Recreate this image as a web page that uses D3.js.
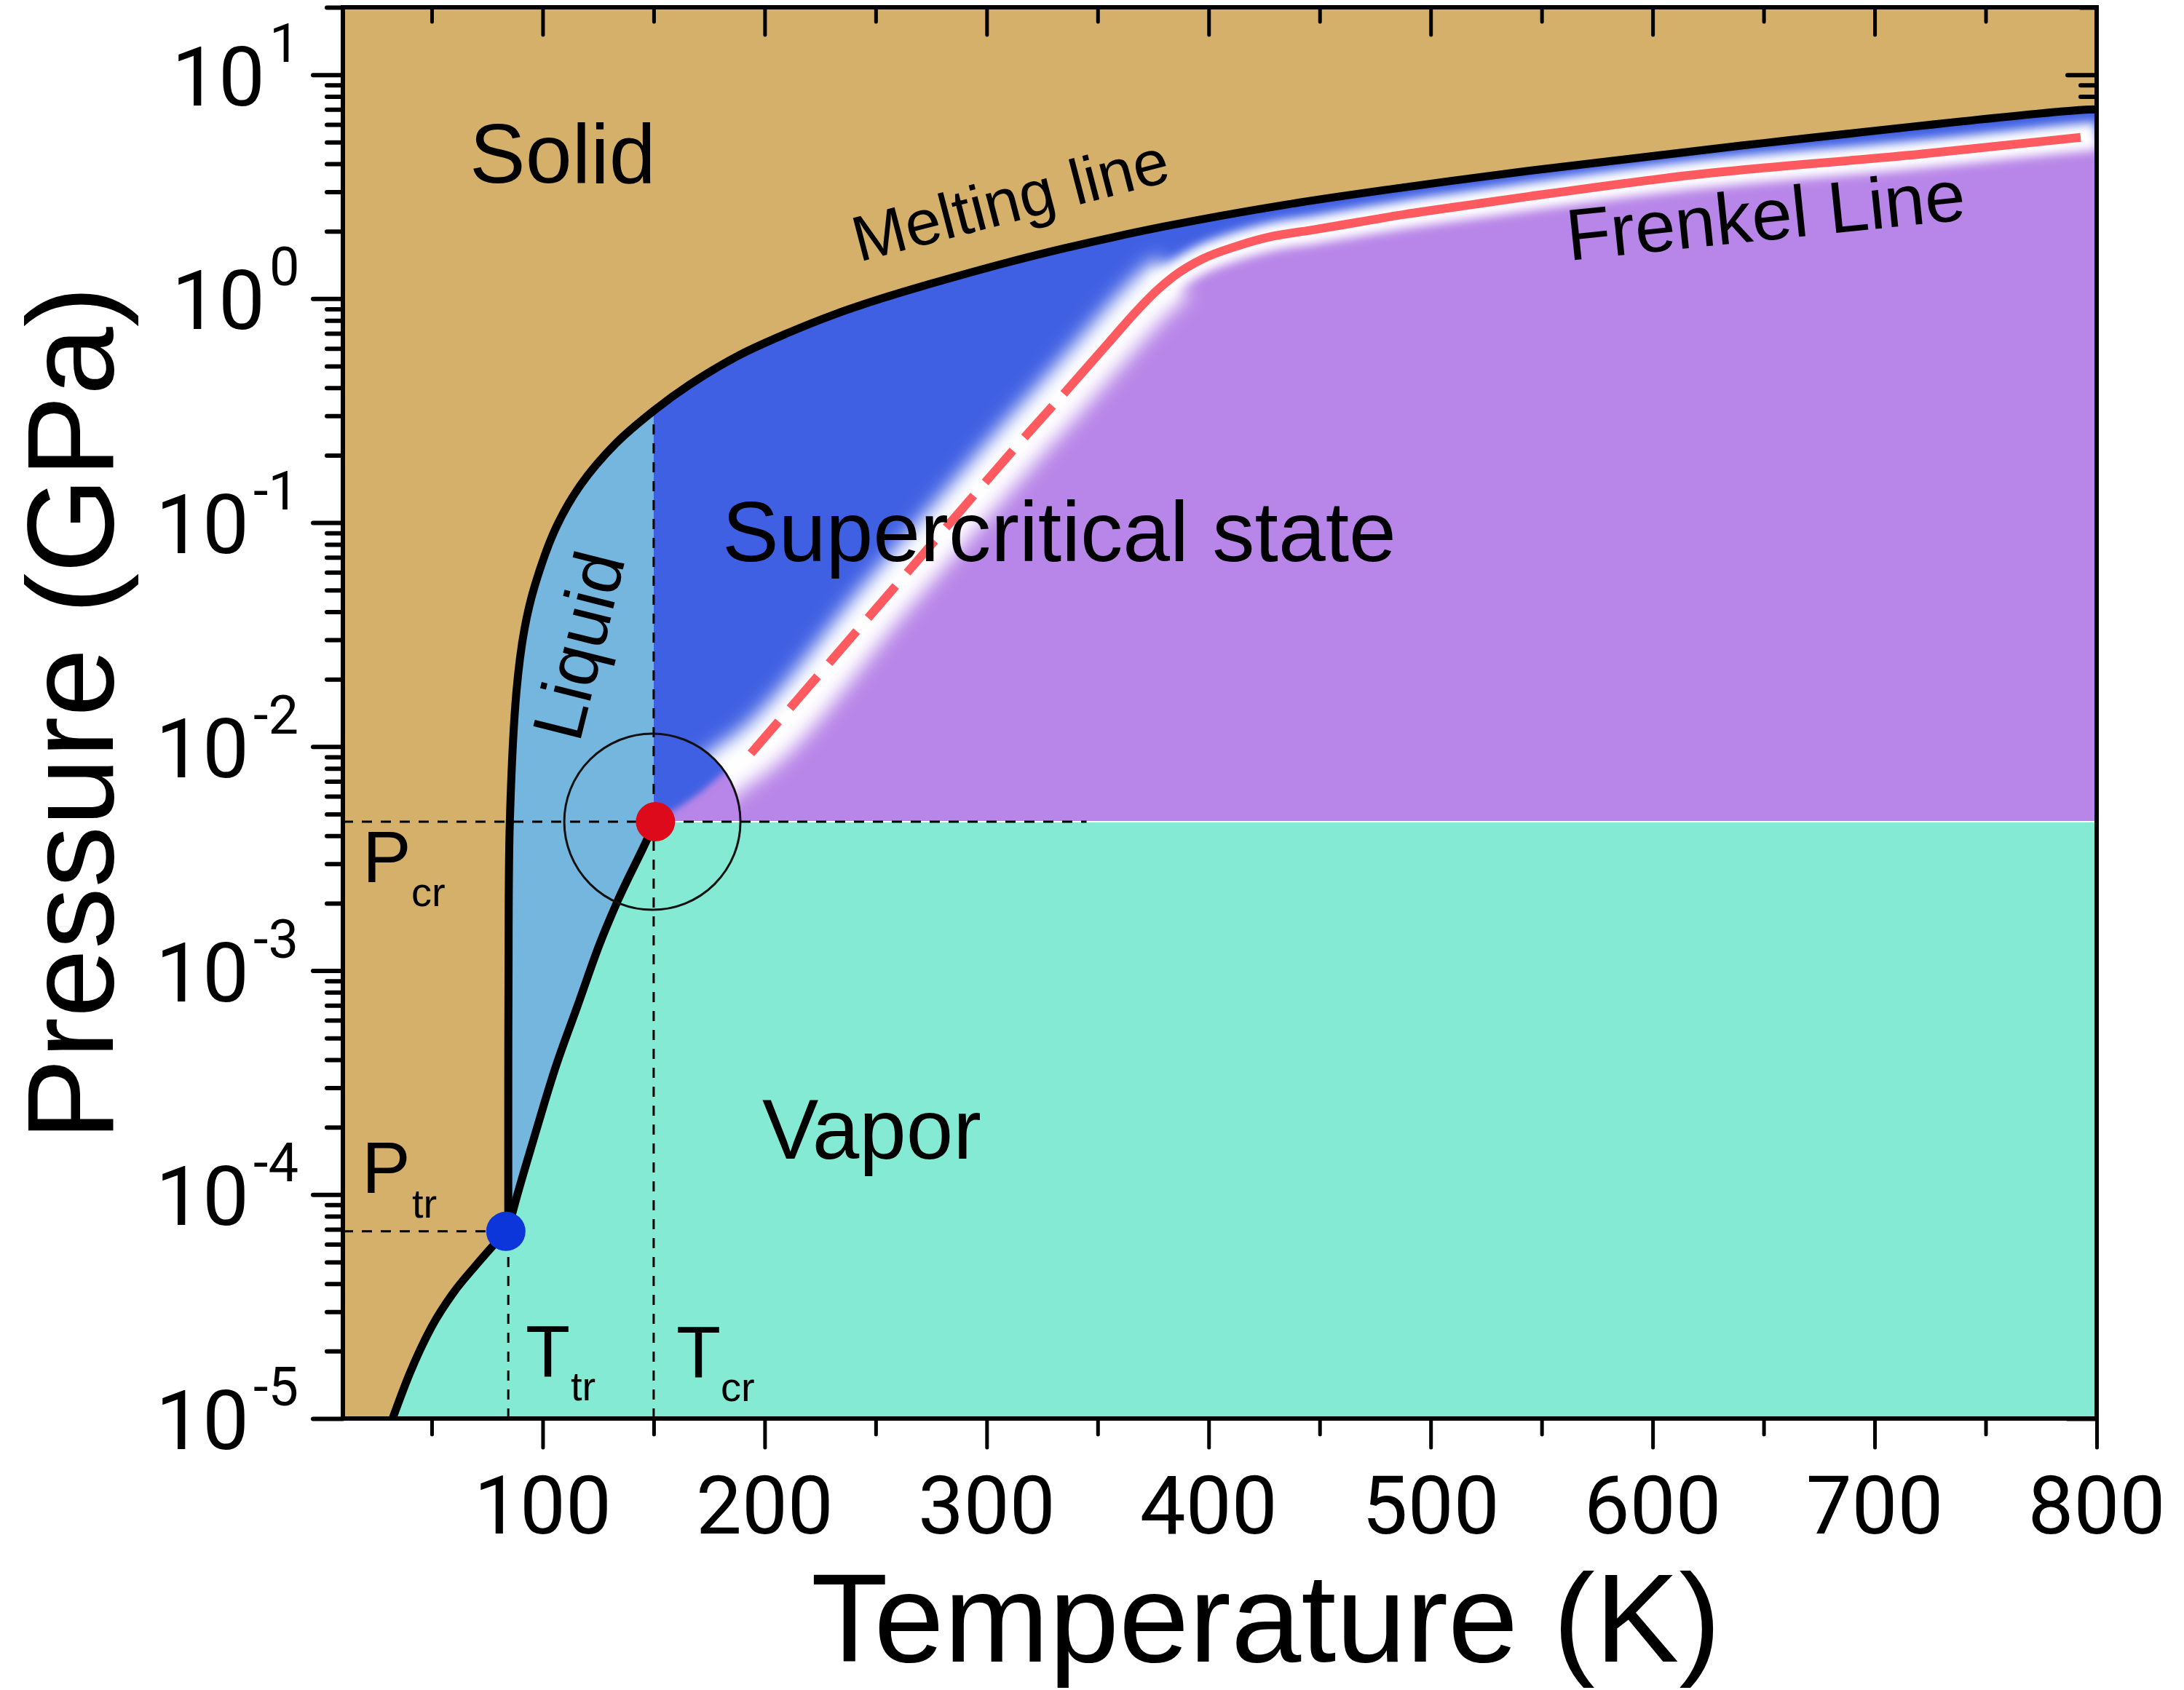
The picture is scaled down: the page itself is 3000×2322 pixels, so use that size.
<!DOCTYPE html>
<html>
<head>
<meta charset="utf-8">
<script src="https://cdn.jsdelivr.net/npm/d3@7"></script>
<style>
  html, body { margin: 0; padding: 0; background: #fff; }
  text { font-family: "Liberation Sans", Arial, sans-serif; fill: #000; }
  text.num { font-family: Roboto, "Liberation Sans", sans-serif; }
</style>
</head>
<body>
<svg id="chart" width="3000" height="2322"></svg>
<script>
// phase boundaries: T in K, P in GPa
const meltT = [84.5, 84.5, 84.6, 85.2, 88.2, 91.8, 96.5, 106, 117, 133, 150, 166, 188, 210, 232, 254, 276, 308, 335, 380, 435, 490, 544, 650, 792, 800];
const meltP = [7.08e-5, 3.16e-4, 8.7e-4, 4.6e-3, 0.0177, 0.0335, 0.0525, 0.095, 0.147, 0.226, 0.316, 0.412, 0.556, 0.70, 0.855, 1.012, 1.175, 1.439, 1.679, 2.1, 2.63, 3.16, 3.72, 4.95, 6.95, 7.0];
const sublT = [32.4, 40, 50, 60, 70, 78, 84.5];
const sublP = [1e-5, 1.58e-5, 2.57e-5, 3.67e-5, 4.84e-5, 5.96e-5, 6.9e-5];
const vapT = [87.9, 96.1, 105.6, 115.8, 125.6, 133.8, 146.5, 150.7];
const vapP = [9.44e-5, 1.79e-4, 3.65e-4, 7e-4, 1.31e-3, 2.05e-3, 3.75e-3, 4.62e-3];
const frenkelT = [193.8, 255, 300, 316, 334.7, 355, 368, 377, 384, 397, 413, 429.5, 445.9, 467.9, 489.5, 511.5, 544.3, 616, 720.7, 792.8, 800];
const frenkelP = [0.00933, 0.0469, 0.154, 0.234, 0.376, 0.637, 0.891, 1.096, 1.253, 1.5, 1.72, 1.905, 2.02, 2.2, 2.39, 2.57, 2.86, 3.55, 4.42, 5.25, 5.33];
// where blue fades straight into purple, below the start of the Frenkel line
const crossoverT = [150.7, 172.8, 182.6];
const crossoverP = [4.62e-3, 0.00646, 0.0078];

const Ttr = 83.4, Ptr = 6.85e-5, TtrLine = 84.5;
const Tcr = 150.8, Pcr = 4.62e-3, TcrLine = 150, PmeltAtTcr = 0.316;
const circleT = 149.4, circleR = 121;
const PdashEndT = 345;

const majorT = [100, 200, 300, 400, 500, 600, 700, 800];
const minorT = [50, 150, 250, 350, 450, 550, 650, 750];
const majorExp = [1, 0, -1, -2, -3, -4, -5];
const minorP = [20];
majorExp.slice(1).forEach(e => [2, 3, 4, 5, 6, 7, 8, 9].forEach(m => minorP.push(m * Math.pow(10, e))));

const colors = { solid: '#D4B06A', liquid: '#75B6DE', blue: '#3F60E3', purple: '#B886E8', vapor: '#85EAD4', red: '#FF5A60', critical: '#DC0A1A', triple: '#0C35DA' };

const xScale = d3.scaleLinear().domain([10, 800]).range([471, 2880]);
const yScale = d3.scaleLog().domain([1e-5, 20]).range([1949, 10]);

const svg = d3.select('#chart');
const defs = svg.append('defs');

const zip = (ts, ps) => ts.map((t, i) => ({ t: t, p: ps[i] }));
const melt = zip(meltT, meltP);
const subl = zip(sublT, sublP);
const vap = zip(vapT, vapP);
const frenkel = zip(frenkelT, frenkelP);
const crossover = zip(crossoverT, crossoverP);

const lineMelt = d3.line().x(d => xScale(d.t)).y(d => yScale(d.p)).curve(d3.curveCatmullRom.alpha(0.5));
const line = d3.line().x(d => xScale(d.t)).y(d => yScale(d.p)).curve(d3.curveMonotoneX);
const X = t => xScale(t), Y = p => yScale(p);
const Pmin = 1e-5, Pmax = 20, Tmax = 800;

function blur(id, sd) {
  defs.append('filter').attr('id', id).attr('filterUnits', 'userSpaceOnUse')
    .attr('x', 0).attr('y', 0).attr('width', 3000).attr('height', 2322)
    .append('feGaussianBlur').attr('stdDeviation', sd);
}
blur('blurEdge', 5);
blur('blurWide', 13);
blur('blurNarrow', 7);

// everything on the fluid side of the melting line
defs.append('clipPath').attr('id', 'fluidClip').append('path')
  .attr('d', lineMelt(melt) + `L${X(Tmax)},${Y(Pmin)}L${X(melt[0].t)},${Y(Pmin)}Z`);
defs.append('clipPath').attr('id', 'superClip').append('rect')
  .attr('x', X(TcrLine)).attr('y', Y(Pmax)).attr('width', X(Tmax) - X(TcrLine)).attr('height', Y(Pcr) - Y(Pmax));
// the white glow stops at the circle round the critical point
const cx = X(circleT), cy = Y(Pcr);
defs.append('clipPath').attr('id', 'outsideCircle').append('path')
  .attr('clip-rule', 'evenodd')
  .attr('d', `M0,0H3000V2322H0Z M${cx - circleR},${cy}A${circleR},${circleR} 0 1,0 ${cx + circleR},${cy}A${circleR},${circleR} 0 1,0 ${cx - circleR},${cy}Z`);

// solid background
svg.append('rect').attr('x', X(10)).attr('y', Y(Pmax)).attr('width', X(Tmax) - X(10)).attr('height', Y(Pmin) - Y(Pmax))
  .attr('fill', colors.solid);

function tickStyle(g, w) {
  g.selectAll('.domain').remove();
  g.selectAll('line').attr('stroke', '#000').attr('stroke-width', w).attr('stroke-linecap', 'round');
}

// mirrored ticks, the fluid regions cover most of the right hand ones
svg.append('g').attr('transform', `translate(0,${Y(Pmax)})`)
  .call(d3.axisTop(xScale).tickValues(majorT).tickSize(-38).tickFormat('')).call(tickStyle, 5);
svg.append('g').attr('transform', `translate(0,${Y(Pmax)})`)
  .call(d3.axisTop(xScale).tickValues(minorT).tickSize(-20).tickFormat('')).call(tickStyle, 5);
svg.append('g').attr('transform', `translate(${X(Tmax)},0)`)
  .call(d3.axisRight(yScale).tickValues(majorExp.map(e => Math.pow(10, e))).tickSize(-40).tickFormat('')).call(tickStyle, 6);
svg.append('g').attr('transform', `translate(${X(Tmax)},0)`)
  .call(d3.axisRight(yScale).tickValues(minorP).tickSize(-22).tickFormat('')).call(tickStyle, 6);

// supercritical part: purple, blue above the Frenkel line, white glow between
const fluid = svg.append('g').attr('clip-path', 'url(#fluidClip)');
fluid.append('rect').attr('x', X(melt[0].t)).attr('y', Y(Pmax)).attr('width', X(TcrLine) - X(melt[0].t)).attr('height', Y(Pmin) - Y(Pmax))
  .attr('fill', colors.liquid);
const sup = fluid.append('g').attr('clip-path', 'url(#superClip)');
sup.append('rect').attr('x', X(TcrLine)).attr('y', Y(Pmax)).attr('width', X(Tmax) - X(TcrLine)).attr('height', Y(Pcr) - Y(Pmax))
  .attr('fill', colors.purple);
const boundary = crossover.concat(frenkel);
sup.append('path')
  .attr('d', line(boundary) + `L${X(Tmax) + 60},${Y(frenkel[frenkel.length - 1].p)}L${X(Tmax) + 60},${Y(Pmax) - 60}L${X(100)},${Y(Pmax) - 60}L${X(100)},${Y(Pcr)}Z`)
  .attr('fill', colors.blue).attr('filter', 'url(#blurEdge)');
const glow = sup.append('g').attr('clip-path', 'url(#outsideCircle)');
glow.append('path').datum(boundary.filter(d => d.t >= 172 && d.t <= 384))
  .attr('d', line).attr('fill', 'none').attr('stroke', '#fff').attr('stroke-width', 68).attr('filter', 'url(#blurWide)');
glow.append('path').datum(frenkel.filter(d => d.t >= 377))
  .attr('d', line).attr('fill', 'none').attr('stroke', '#fff').attr('stroke-width', 38).attr('filter', 'url(#blurNarrow)');

// vapor on top of the liquid rectangle
svg.append('path')
  .attr('d', line(subl.concat(vap)) + `L${X(Tmax)},${Y(Pcr)}L${X(Tmax)},${Y(Pmin)}Z`)
  .attr('fill', colors.vapor);
svg.append('line').attr('x1', X(Tcr)).attr('x2', X(Tmax)).attr('y1', Y(Pcr)).attr('y2', Y(Pcr))
  .attr('stroke', '#fff').attr('stroke-width', 2);

// Frenkel line, dashed up to the knee
svg.append('path').datum(frenkel.filter(d => d.t <= 334.7))
  .attr('d', line).attr('fill', 'none').attr('stroke', colors.red).attr('stroke-width', 12).attr('stroke-dasharray', '58 24');
svg.append('path').datum(frenkel.filter(d => d.t >= 334.7 && d.t <= 793))
  .attr('d', line).attr('fill', 'none').attr('stroke', colors.red).attr('stroke-width', 12);

// guide lines
function guide(x1, y1, x2, y2) {
  svg.append('line').attr('x1', x1).attr('y1', y1).attr('x2', x2).attr('y2', y2)
    .attr('stroke', '#000').attr('stroke-width', 3).attr('stroke-dasharray', '14 12');
}
guide(X(10), Y(Pcr), X(PdashEndT), Y(Pcr));
guide(X(10), Y(Ptr), X(Ttr), Y(Ptr));
guide(X(TcrLine), Y(Pmin), X(TcrLine), Y(PmeltAtTcr));
guide(X(TtrLine), Y(Pmin), X(TtrLine), Y(Ptr));

// phase boundaries
svg.append('path').datum(melt).attr('d', lineMelt).attr('fill', 'none').attr('stroke', '#000').attr('stroke-width', 11);
[subl, [melt[0]].concat(vap)].forEach(d => {
  svg.append('path').datum(d).attr('d', line).attr('fill', 'none').attr('stroke', '#000').attr('stroke-width', 11);
});

svg.append('circle').attr('cx', cx).attr('cy', cy).attr('r', circleR)
  .attr('fill', 'none').attr('stroke', '#111').attr('stroke-width', 3);
svg.append('circle').attr('cx', X(Tcr)).attr('cy', Y(Pcr)).attr('r', 27).attr('fill', colors.critical);
svg.append('circle').attr('cx', X(Ttr)).attr('cy', Y(Ptr)).attr('r', 27).attr('fill', colors.triple);

// frame and outer axes
const frame = svg.append('g').attr('fill', 'none').attr('stroke', '#000').attr('stroke-width', 6);
frame.append('rect').attr('x', X(10)).attr('y', Y(Pmax)).attr('width', X(Tmax) - X(10)).attr('height', Y(Pmin) - Y(Pmax));

svg.append('g').attr('transform', `translate(0,${Y(Pmin)})`)
  .call(d3.axisBottom(xScale).tickValues(majorT).tickSize(40).tickFormat('')).call(tickStyle, 5);
svg.append('g').attr('transform', `translate(0,${Y(Pmin)})`)
  .call(d3.axisBottom(xScale).tickValues(minorT).tickSize(22).tickFormat('')).call(tickStyle, 5);
svg.append('g').attr('transform', `translate(${X(10)},0)`)
  .call(d3.axisLeft(yScale).tickValues(majorExp.map(e => Math.pow(10, e))).tickSize(41).tickFormat('')).call(tickStyle, 6);
svg.append('g').attr('transform', `translate(${X(10)},0)`)
  .call(d3.axisLeft(yScale).tickValues(minorP).tickSize(22).tickFormat('')).call(tickStyle, 6);

// tick labels
function label(str, x, y, size, anchor, rot) {
  const t = svg.append('text').text(str).attr('font-size', size).attr('text-anchor', anchor || 'start');
  if (rot) t.attr('transform', `translate(${x},${y}) rotate(${rot})`);
  else t.attr('x', x).attr('y', y);
  return t;
}
majorT.forEach(t => label(t, X(t), 2107, 112, 'middle').attr('class', 'num'));
majorExp.forEach(e => {
  const y = Y(Math.pow(10, e));
  const endOf10 = e < 0 ? 342 : 364;
  label('10', endOf10, y + 42, 114, 'end').attr('class', 'num');
  label(String(e), endOf10 + 6, y - 18, 74, 'start').attr('class', 'num');
});

// axis titles
label('Temperature (K)', 1739, 2283, 173, 'middle');
label('Pressure (GPa)', 155, 980, 169, 'middle', -90);

// region names
label('Solid', 645, 251, 115);
label('Supercritical state', 992, 771, 116.5);
label('Vapor', 1047, 1592, 116);
label('Melting line', 1180, 360, 88, 'start', -14.6);
label('Frenkel Line', 2155, 358, 100, 'start', -5.9);
label('Liquid', 796, 1022, 98, 'start', -76);

// point names with subscripts
label('P', 498, 1212, 100);
label('cr', 565, 1245, 56);
label('P', 497, 1639, 100);
label('tr', 566, 1673, 56);
label('T', 722, 1891, 100);
label('tr', 784, 1924, 56);
label('T', 929, 1892, 100);
label('cr', 990, 1925, 56);
</script>
</body>
</html>
